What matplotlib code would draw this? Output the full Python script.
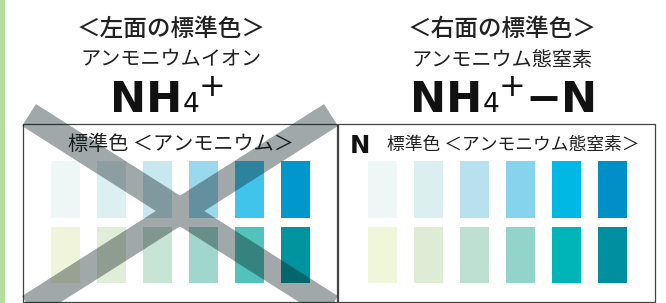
import matplotlib
matplotlib.use('Agg')
import matplotlib.pyplot as plt
from matplotlib.patches import Rectangle, PathPatch
from matplotlib.path import Path
import numpy as np

plt.rcParams['font.family'] = ['Noto Sans CJK JP', 'DejaVu Sans']

# data
titles = ['＜左面の標準色＞', '＜右面の標準色＞']
subtitles = ['アンモニウムイオン', 'アンモニウム態窒素']
panel_labels = ['標準色 ＜アンモニウム＞', '標準色 ＜アンモニウム態窒素＞']
left_top = ['#eef7f6', '#dcf0f2', '#c8e8ef', '#9ad8ee', '#40c4ec', '#0098cc']
left_bottom = ['#f0f4da', '#e1eed7', '#c8e4d4', '#a0d6cb', '#52c2bc', '#00959e']
right_top = ['#eef7f6', '#dcefF0', '#b7e1ee', '#85d3ec', '#00b8e4', '#0090c8']
right_bottom = ['#f0f6da', '#deecd6', '#bee0d3', '#92d3ca', '#00b5b8', '#008f9e']

W, H = 666, 303
fig = plt.figure(figsize=(W / 100, H / 100), dpi=100)
ax = fig.add_axes([0, 0, 1, 1])
ax.set_xlim(0, W)
ax.set_ylim(H, 0)
ax.axis('off')
renderer = fig.canvas.get_renderer()

# green strip on the left
ax.add_patch(Rectangle((0, 0), 5, H, color='#b5dc9e', lw=0))

# boxes
boxes = [(22.5, 124, 314, 178), (338, 124, 317, 178)]
for bx, by, bw, bh in boxes:
    ax.add_patch(Rectangle((bx, by), bw, bh, fill=False, ec='#444444', lw=0.9, zorder=2))

# swatches
panels = [(left_top, left_bottom, 51), (right_top, right_bottom, 368)]
for top, bottom, x0 in panels:
    for i in range(len(top)):
        x = x0 + 46 * i
        ax.add_patch(Rectangle((x, 161), 29, 57, color=top[i], lw=0, zorder=1))
        ax.add_patch(Rectangle((x, 227), 29, 56, color=bottom[i], lw=0, zorder=1))

# titles
centers = [171, 502]
for k in range(2):
    ax.text(centers[k], 29, titles[k], ha='center', va='center', fontsize=17,
            fontweight='medium', color='#222222')
    ax.text(centers[k], 60, subtitles[k], ha='center', va='center', fontsize=14.5, color='#222222')


def chain(x, y, parts):
    # parts: (text, fontsize, weight, dy)
    for s, fs, wt, dy in parts:
        t = ax.text(x, y + dy, s, ha='left', va='baseline', fontsize=fs, fontweight=wt,
                    color='#111111', family='DejaVu Sans')
        bb = t.get_window_extent(renderer)
        x = bb.x1


chain(110, 112, [('NH', 31, 'bold', 0), ('4', 19, 'normal', 0), ('+', 23, 'normal', -16)])
chain(410, 112, [('NH', 31, 'bold', 0), ('4', 19, 'normal', 0), ('+', 23, 'normal', -16),
                 ('−N', 31, 'bold', 0)])

# panel labels
ax.text(68, 145, panel_labels[0], ha='left', va='center', fontsize=14.5, color='#222222', zorder=3)
ax.text(350, 153, 'N', ha='left', va='baseline', fontsize=17.5, fontweight='bold',
        family='DejaVu Sans', color='#111111')
ax.text(387, 145, panel_labels[1], ha='left', va='center', fontsize=12.8, color='#222222')

# the cross over the left panel
band_w = 26
ends = [((29, 115), (331, 307)), ((331, 115), (29, 307))]
verts, codes = [], []
for p1, p2 in ends:
    p1, p2 = np.array(p1, float), np.array(p2, float)
    d = (p2 - p1) / np.linalg.norm(p2 - p1)
    n = np.array([-d[1], d[0]]) * band_w / 2
    verts += [p1 + n, p2 + n, p2 - n, p1 - n, p1 + n]
    codes += [Path.MOVETO, Path.LINETO, Path.LINETO, Path.LINETO, Path.CLOSEPOLY]
ax.add_patch(PathPatch(Path(verts, codes), fc='#0a1a1e', alpha=0.38, lw=0, zorder=5))

fig.savefig('out.png', dpi=100)
